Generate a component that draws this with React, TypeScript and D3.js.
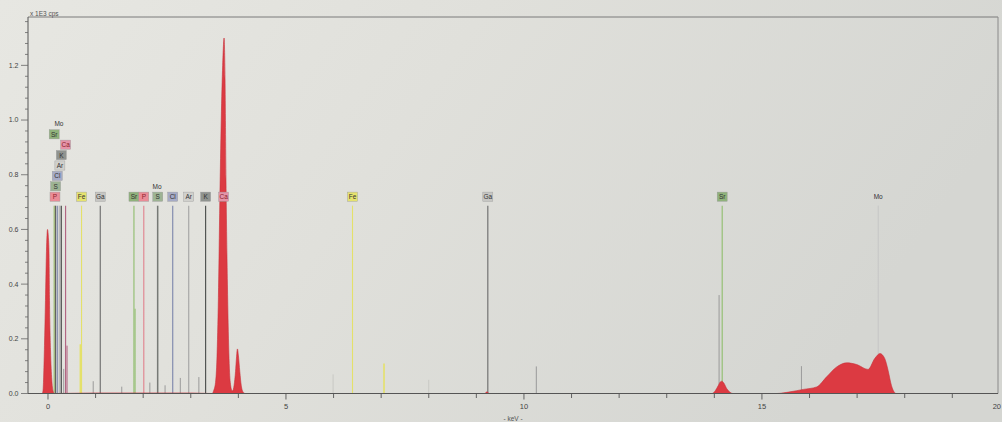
import React from "react";
import * as d3 from "d3";

// ---------- data ----------
// spectrum (keV, x1E3 cps)
const spectrumKeV = [
  -0.42, -0.12, -0.105, -0.074, -0.053, -0.032, -0.01, 0.005, 0.021, 0.032, 0.053, 0.08, 0.105, 0.13,
  1.0, 2.0, 3.0, 3.45, 3.48, 3.52, 3.55, 3.58, 3.61, 3.64, 3.67, 3.7, 3.72, 3.74, 3.77, 3.8, 3.83, 3.87,
  3.88, 3.91, 3.94, 3.96, 3.98, 4.0, 4.03, 4.06, 4.1, 4.14,
  9.18, 9.22, 9.27, 13.95, 14.02, 14.08, 14.13, 14.16, 14.2, 14.26, 14.32, 14.39,
  15.31, 15.59, 15.87, 16.15, 16.36, 16.57, 16.78, 16.99, 17.23, 17.37, 17.48, 17.58, 17.65, 17.72, 17.82, 19.96,
];
const spectrumCps = [
  0, 0, 0.01, 0.175, 0.34, 0.52, 0.6, 0.58, 0.52, 0.34, 0.16, 0.05, 0.01, 0,
  0.002, 0.002, 0.002, 0, 0.01, 0.04, 0.13, 0.35, 0.7, 1.0, 1.2, 1.3, 1.15, 0.78, 0.4, 0.15, 0.04, 0.01,
  0.01, 0.03, 0.08, 0.13, 0.163, 0.14, 0.08, 0.03, 0.005, 0,
  0, 0.006, 0, 0, 0.01, 0.028, 0.043, 0.045, 0.038, 0.018, 0.006, 0,
  0, 0.006, 0.015, 0.024, 0.061, 0.097, 0.112, 0.106, 0.088, 0.128, 0.146, 0.128, 0.085, 0.03, 0, 0,
];

// labelled element lines
const lineElements = ["P", "Fe", "Ga", "Sr", "P", "Mo", "S", "Cl", "Ar", "K", "Ca", "Fe", "Ga", "Sr", "Mo",
  "S", "Cl", "Ar", "K", "Ca", "Sr", "Mo"];
const lineKeV = [0.147, 0.705, 1.098, 1.806, 2.013, 2.293, 2.307, 2.621, 2.957, 3.312, 3.69, 6.398, 9.241, 14.165, 17.443,
  0.16, 0.195, 0.25, 0.28, 0.37, 0.13, 0.23];
const lineLevel = [0, 0, 0, 0, 0, 1, 0, 0, 0, 0, 0, 0, 0, 0, 0, 1, 2, 3, 4, 5, 6, 7];
const lineTop = 0.687;

// secondary (unlabelled) lines
const minorKeV = [0.33, 0.4, 0.68, 0.95, 1.55, 1.83, 2.14, 2.46, 2.78, 3.17, 5.99, 7.06, 8.0, 10.26, 14.1, 15.83];
const minorCps = [0.09, 0.175, 0.18, 0.045, 0.025, 0.31, 0.04, 0.03, 0.057, 0.06, 0.07, 0.11, 0.05, 0.099, 0.36, 0.1];
const minorKind = ["grey", "Ca", "Fe", "grey", "grey", "Sr", "grey", "grey", "grey", "grey", "faint", "Fe", "faint", "grey", "grey", "grey"];

const xMajorTicks = [0, 5, 10, 15, 20];
const yMajorTicks = [0, 0.2, 0.4, 0.6, 0.8, 1.0, 1.2];

// ---------- styles ----------
const lineColor: Record<string, string> = {
  P: "#e0808c", Fe: "#e4e16a", Ga: "#6a6a6a", Sr: "#8fbd6c", S: "#5a5f5a", Cl: "#7a84aa",
  Ar: "#a3a3a3", K: "#474a48", Ca: "#b0607e", Mo: "#c2c2c2", grey: "#9a9a9a", faint: "#c9c9c4",
};
const boxColor: Record<string, string | null> = {
  P: "#ea8c96", Fe: "#e6e36e", Ga: "#c6c6c3", Sr: "#8fb27b", S: "#9db393", Cl: "#a6abc6",
  Ar: "#d0d0cc", K: "#8f938f", Ca: "#e593a8", Mo: null,
};

export default function App() {
  const W = 1002, H = 422;
  const x = d3.scaleLinear().domain([-0.42, 19.96]).range([28, 998]);
  const y = d3.scaleLinear().domain([0, 1.375]).range([393.5, 17.5]);
  const pts = spectrumKeV.map((k, i) => [k, spectrumCps[i]] as [number, number]);
  const area = d3.area<[number, number]>().x(d => x(d[0])).y0(y(0)).y1(d => y(d[1])).curve(d3.curveMonotoneX);
  const font = "'Liberation Sans', Arial, sans-serif";
  const rowY = (lv: number) => 196.7 - lv * 10.4;
  const yMinor = d3.range(0, 1.37, 0.04);
  const xMinor = d3.range(0, 20, 1);

  return (
    <svg width={W} height={H} style={{ position: "absolute", left: 0, top: 0 }} fontFamily={font}>
      <defs>
        <linearGradient id="paper" x1="0" y1="0" x2="1" y2="0.3">
          <stop offset="0%" stopColor="#e7e7e2" />
          <stop offset="45%" stopColor="#e0e0db" />
          <stop offset="100%" stopColor="#d5d6d2" />
        </linearGradient>
      </defs>
      <rect x={0} y={0} width={W} height={H} fill="url(#paper)" />

      {/* frame */}
      <line x1={28} x2={998} y1={17} y2={17} stroke="#7a7a7a" strokeWidth={1} />
      <line x1={998} x2={998} y1={17} y2={393.5} stroke="#8a8a8a" strokeWidth={1} />

      {/* secondary lines */}
      {minorKeV.map((k, i) => (
        <line key={"m" + i} x1={x(k)} x2={x(k)} y1={y(minorCps[i])} y2={y(0)}
          stroke={lineColor[minorKind[i]]} strokeWidth={minorKind[i] === "Fe" ? 1.6 : 1} />
      ))}

      {/* element marker lines */}
      {lineElements.map((el, i) => (
        <line key={"l" + i} x1={x(lineKeV[i])} x2={x(lineKeV[i])} y1={y(lineTop)} y2={y(0)}
          stroke={lineColor[el]} strokeWidth={el === "Mo" ? 0.8 : 1.1} />
      ))}

      {/* spectrum */}
      <path d={area(pts) || ""} fill="#dc3a42" stroke="#c8303a" strokeWidth={0.6} />

      {/* element labels */}
      {lineElements.map((el, i) => {
        const cx = x(lineKeV[i]);
        const cy = rowY(lineLevel[i]);
        const bc = boxColor[el];
        return (
          <g key={"t" + i}>
            {bc && <rect x={cx - 5} y={cy - 4.6} width={10} height={9.2} fill={bc} stroke="#9a9a9a" strokeWidth={0.4} />}
            <text x={cx} y={cy + 2.4} fontSize={6.5} textAnchor="middle" fill={el === "P" || el === "Ca" ? "#8a1f2a" : "#333"}>{el}</text>
          </g>
        );
      })}

      {/* y axis */}
      <line x1={28} x2={28} y1={17} y2={393.5} stroke="#555" strokeWidth={1} />
      {yMinor.map((v, i) => (
        <line key={"ym" + i} x1={i % 5 === 0 ? 21 : 25} x2={28} y1={y(v)} y2={y(v)} stroke="#666" strokeWidth={0.8} />
      ))}
      {yMajorTicks.map(v => (
        <text key={"yl" + v} x={18.5} y={y(v) + 2.4} fontSize={7} textAnchor="end" fill="#444">{v.toFixed(1)}</text>
      ))}
      <text x={30} y={15.5} fontSize={6.5} fill="#555">x 1E3 cps</text>

      {/* x axis */}
      <line x1={28} x2={998} y1={393.5} y2={393.5} stroke="#555" strokeWidth={1} />
      {xMinor.map(v => (
        <line key={"xm" + v} x1={x(v)} x2={x(v)} y1={393.5} y2={v % 5 === 0 ? 399.5 : 398} stroke="#555" strokeWidth={0.9} />
      ))}
      {xMajorTicks.map(v => (
        <text key={"xl" + v} x={v === 20 ? 1001 : x(v)} y={409} fontSize={7.5}
          textAnchor={v === 20 ? "end" : "middle"} fill="#444">{v}</text>
      ))}
      <text x={513} y={420.5} fontSize={6.5} textAnchor="middle" fill="#555">- keV -</text>
    </svg>
  );
}
